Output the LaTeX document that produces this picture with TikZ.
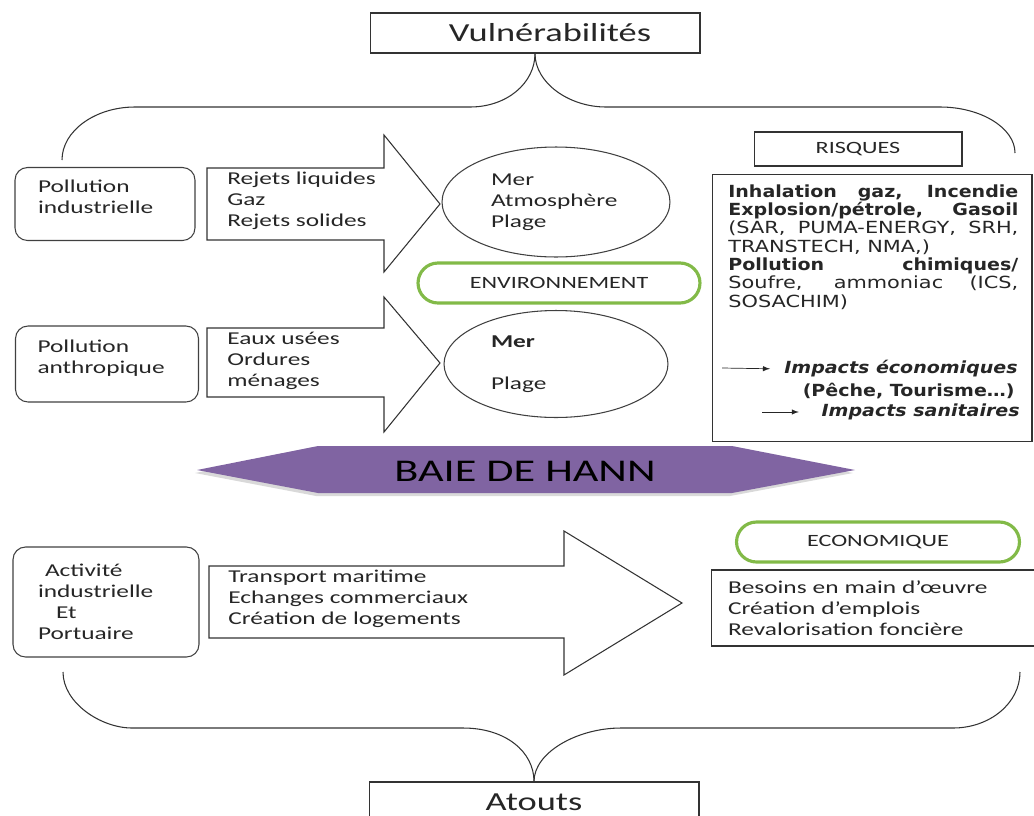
\documentclass[tikz,border=0pt]{standalone}
\usepackage{fontspec}
\setmainfont{Carlito}[FakeStretch=1.4]
\newfontfamily\verdfont{DejaVu Sans}[FakeStretch=1.25]
\newfontfamily\verdbfont{DejaVu Sans}[FakeStretch=1.14]
\usetikzlibrary{shapes.geometric}

\definecolor{baiepurple}{RGB}{128,100,162}
\definecolor{pillgreen}{RGB}{130,186,72}

\tikzset{
  titlebox/.style={draw=black!80, line width=0.6pt, minimum width=6.6cm, minimum height=0.8cm, font=\fontsize{14.8}{16}\selectfont},
  srcbox/.style={draw=black!75, line width=0.6pt, rounded corners=0.25cm, align=left, inner sep=0pt},
  blockarrow/.style={draw=black!80, line width=0.6pt, fill=white},
  listtext/.style={anchor=west, align=left, inner sep=0pt},
  pill/.style={draw=pillgreen, line width=1.8pt, rounded corners=0.4cm, minimum height=0.8cm, font=\fontsize{9.8}{11}\selectfont},
  plainbox/.style={draw=black!80, line width=0.6pt},
  brace/.style={draw=black!80, line width=0.6pt},
  risqfont/.style={font=\verdfont\fontsize{9.5}{10.45}\selectfont},
  risqbold/.style={anchor=east, inner sep=0pt, font=\verdbfont\fontsize{9.5}{10.45}\selectfont\bfseries}
}
\newcommand{\rb}[1]{{\verdbfont\bfseries #1}}

\begin{document}
\begin{tikzpicture}[x=0.02cm, y=-0.02cm, font=\fontsize{10.3}{12}\selectfont, text=black!85]

\useasboundingbox (0,0) rectangle (1034,815);

\node[titlebox] (vul) at (535,33) {\hspace*{0.6cm}Vulnérabilités};
\node[titlebox] (atouts) at (534,802) {Atouts};

% top brace
\coordinate (tl) at (62,160);
\coordinate (tr) at (1015,153);
\draw[brace] (tl) .. controls (62,131) and (95,107) .. (135,107) -- (470,107) .. controls (507,107) and (535,83) .. (vul.south);
\draw[brace] (vul.south) .. controls (535,83) and (569,107) .. (606,107) -- (940,107) .. controls (981,107) and (1015,128) .. (tr);

% bottom brace
\coordinate (bl) at (63,672);
\coordinate (br) at (1020,672);
\draw[brace] (bl) .. controls (63,703) and (101,728) .. (132,728) -- (463,728) .. controls (506,728) and (534,752) .. (atouts.north);
\draw[brace] (atouts.north) .. controls (534,752) and (578,728) .. (621,728) -- (953,728) .. controls (990,728) and (1020,703) .. (br);

\node[srcbox, minimum width=3.6cm, minimum height=1.46cm, text width=2.68cm, inner xsep=0.46cm] (pind) at (105,204) {Pollution\\industrielle\\[-4pt]\mbox{}};
\node[srcbox, minimum width=3.66cm, minimum height=1.52cm, text width=2.78cm, inner xsep=0.44cm] (panth) at (107,364) {Pollution\\anthropique\\[-4pt]\mbox{}};
\node[srcbox, minimum width=3.72cm, minimum height=2.2cm, text width=2.72cm, inner xsep=0.5cm] (activ) at (106,602) {\hspace*{0.14cm}Activité\\industrielle\\\hspace*{0.36cm}Et\\Portuaire};

\draw[blockarrow] (207,168) -- (384,168) -- (384,135) -- (440,204) -- (384,272) -- (384,240) -- (207,240) -- cycle;
\draw[blockarrow] (207,328) -- (384,328) -- (384,297) -- (440,363) -- (384,432) -- (384,397) -- (207,397) -- cycle;
\draw[blockarrow] (209,566) -- (564,566) -- (564,531) -- (682,603) -- (564,675) -- (564,638) -- (209,638) -- cycle;

\node[listtext] (rejets) at (227,201) {Rejets liquides\\Gaz\\Rejets solides};
\node[listtext] (eaux) at (227,361) {Eaux usées\\Ordures\\ménages};
\node[listtext] (transp) at (228,599) {Transport maritime\\Echanges commerciaux\\Création de logements};

\node[ellipse, draw=black!75, line width=0.6pt, minimum width=4.56cm, minimum height=2.2cm, text width=2.6cm, align=left] (mer1) at (556,202) {Mer\\Atmosphère\\Plage};
\node[ellipse, draw=black!75, line width=0.6pt, minimum width=4.48cm, minimum height=2.14cm, text width=2.6cm, align=left] (mer2) at (556,364) {\textbf{Mer}\\[12pt]Plage};

\node[pill, minimum width=5.64cm] (env) at (559,283) {ENVIRONNEMENT};
\node[pill, minimum width=5.66cm] (econ) at (878,542) {ECONOMIQUE};

% risques
\node[plainbox, minimum width=4.16cm, minimum height=0.68cm, font=\fontsize{9.8}{11}\selectfont] (risq) at (858,149) {RISQUES};
\node[plainbox, minimum width=6.4cm, minimum height=5.34cm] (risqbox) at (872,308) {};
\node[risqfont, anchor=north west, inner sep=0pt, text width=5.8cm, align=justify] (risqtxt) at (728,184) {\rb{Inhalation gaz, Incendie\linebreak Explosion/pétrole, Gasoil}\linebreak (SAR, PUMA-ENERGY, SRH,\linebreak TRANSTECH, NMA,)\\ \rb{Pollution chimiques/}\linebreak Soufre, ammoniac (ICS,\linebreak SOSACHIM)};

\node[risqbold] (impeco) at (1018,369) {\itshape Impacts économiques};
\node[risqbold] (peche) at (1015,391) {(Pêche, Tourisme…)};
\node[risqbold] (impsan) at (1020,412) {\itshape Impacts sanitaires};
\coordinate (ecotail) at (722,368);
\coordinate (santail) at (762,412);
\draw[-latex, black!85] (ecotail) -- (impeco.west) [shorten >=0.28cm];
\draw[-latex, black!85] (santail) -- (impsan.west) [shorten >=0.45cm];

\node[plainbox, minimum width=6.56cm, minimum height=1.52cm, text width=5.88cm, inner xsep=0.34cm, align=left] (ecobox) at (875,608) {Besoins en main d’œuvre\\Création d’emplois\\Revalorisation foncière};

% banner
\fill[black!15] (195,473) -- (316,449) -- (730,449) -- (853,473) -- (730,496) -- (316,496) -- cycle;
\fill[baiepurple] (197,470) -- (318,446) -- (732,446) -- (855,470) -- (732,493) -- (318,493) -- cycle;
\node[font=\fontsize{18}{20}\selectfont, text=black] (baie) at (525,471) {BAIE DE HANN};

\end{tikzpicture}
\end{document}
